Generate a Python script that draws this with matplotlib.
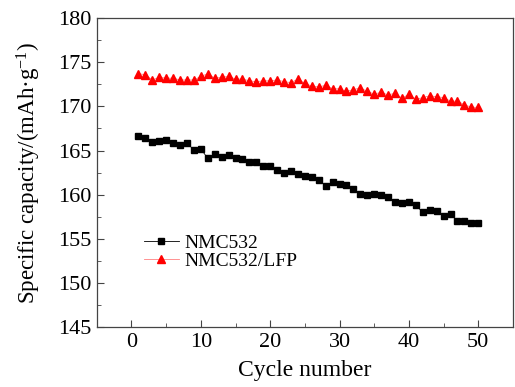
import matplotlib
matplotlib.use("Agg")
import matplotlib.pyplot as plt
from matplotlib.ticker import MultipleLocator

plt.rcParams["font.family"] = ["Liberation Serif", "DejaVu Serif"]
plt.rcParams["mathtext.default"] = "regular"

cycles = list(range(1, 51))
nmc532 = [166.6, 166.4, 166.0, 166.1, 166.2, 165.8, 165.6, 165.8, 165.1, 165.2,
          164.1, 164.6, 164.3, 164.5, 164.2, 164.0, 163.7, 163.7, 163.2, 163.2,
          162.8, 162.5, 162.7, 162.3, 162.1, 162.0, 161.7, 161.0, 161.4, 161.2,
          161.1, 160.6, 160.1, 160.0, 160.1, 160.0, 159.7, 159.2, 159.0, 159.2,
          158.8, 158.0, 158.3, 158.1, 157.6, 157.8, 157.0, 157.0, 156.8, 156.8]
nmc532_lfp = [173.7, 173.6, 173.0, 173.3, 173.2, 173.2, 173.0, 173.0, 173.0, 173.4,
              173.7, 173.2, 173.3, 173.4, 173.1, 173.1, 172.9, 172.8, 172.9, 172.9,
              173.0, 172.8, 172.7, 173.1, 172.6, 172.3, 172.2, 172.4, 172.0, 172.0,
              171.7, 171.9, 172.1, 171.7, 171.4, 171.6, 171.3, 171.5, 170.9, 171.4,
              170.8, 171.0, 171.2, 171.1, 171.0, 170.6, 170.6, 170.2, 169.9, 169.9]

fig = plt.figure(figsize=(5.15, 3.87), dpi=100)
ax = fig.add_axes([0.188, 0.155, 0.808, 0.798])

ax.plot(cycles, nmc532, color="black", lw=0.6, marker="s", ms=5,
        mec="black", mfc="black", label="NMC532")
ax.plot(cycles, nmc532_lfp, color="#ff8080", lw=0.6, marker="^", ms=6,
        mec="red", mfc="red", label="NMC532/LFP")

ax.set_xlim(-5, 55)
ax.set_ylim(145, 180)
ax.xaxis.set_major_locator(MultipleLocator(10))
ax.xaxis.set_minor_locator(MultipleLocator(5))
ax.yaxis.set_major_locator(MultipleLocator(5))
ax.yaxis.set_minor_locator(MultipleLocator(2.5))
ax.tick_params(which="both", direction="in", top=False, right=False,
               labelsize=16, color="#444")
ax.tick_params(which="major", length=5, pad=4)
ax.tick_params(which="minor", length=3)
for s in ax.spines.values():
    s.set_color("#444")
    s.set_linewidth(0.9)

ax.set_xlabel("Cycle number", fontsize=17, labelpad=6)
ax.set_ylabel("Specific capacity/(mAh·g$^{-1}$)", fontsize=16.5, labelpad=11)

ax.legend(loc="lower left", bbox_to_anchor=(0.08, 0.14), frameon=False,
          fontsize=14, handlelength=1.8, handletextpad=0.3, labelspacing=0.05,
          borderpad=0.2)

fig.savefig("out.png", dpi=100, facecolor="white")
